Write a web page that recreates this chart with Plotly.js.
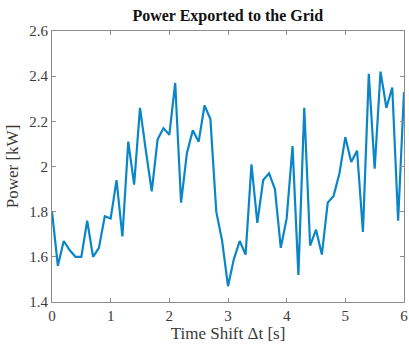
<!DOCTYPE html>
<html>
<head>
<meta charset="utf-8">
<script src="https://cdn.plot.ly/plotly-3.0.1.min.js"></script>
<style>html,body{margin:0;padding:0;background:#fff;}#chart{width:409px;height:344px;}</style>
</head>
<body>
<div id="chart"></div>
<script>
const timeShift = [0,0.1,0.2,0.3,0.4,0.5,0.6,0.7,0.8,0.9,1.0,1.1,1.2,1.3,1.4,1.5,1.6,1.7,1.8,1.9,2.0,2.1,2.2,2.3,2.4,2.5,2.6,2.7,2.8,2.9,3.0,3.1,3.2,3.3,3.4,3.5,3.6,3.7,3.8,3.9,4.0,4.1,4.2,4.3,4.4,4.5,4.6,4.7,4.8,4.9,5.0,5.1,5.2,5.3,5.4,5.5,5.6,5.7,5.8,5.9,6.0];
const power = [1.80,1.56,1.67,1.63,1.60,1.60,1.76,1.60,1.64,1.78,1.77,1.94,1.69,2.11,1.92,2.26,2.07,1.89,2.12,2.17,2.14,2.37,1.84,2.06,2.16,2.11,2.27,2.21,1.80,1.67,1.47,1.59,1.67,1.61,2.01,1.75,1.94,1.97,1.90,1.64,1.77,2.09,1.52,2.26,1.65,1.72,1.61,1.84,1.87,1.97,2.13,2.02,2.07,1.71,2.41,1.99,2.42,2.26,2.35,1.76,2.33];
const xTicks = [0,1,2,3,4,5,6];
const yTicks = [1.4,1.6,1.8,2,2.2,2.4,2.6];
const yTickText = ['1.4','1.6','1.8','2','2.2','2.4','2.6'];

const serif = 'Liberation Serif, Times New Roman, serif';
const axisCommon = {
  showgrid: false, zeroline: false, showline: true, mirror: 'ticks',
  linecolor: '#8c8c8c', linewidth: 1,
  ticks: 'inside', ticklen: 4, tickcolor: '#8c8c8c',
  tickfont: {family: serif, size: 15, color: '#3a3a3a'}
};
Plotly.newPlot('chart', [{
  x: timeShift, y: power, type: 'scatter', mode: 'lines',
  line: {color: '#0a86c8', width: 2.2}
}], {
  width: 409, height: 344,
  margin: {l: 52, r: 5, t: 31, b: 42},
  paper_bgcolor: '#fff', plot_bgcolor: '#fff',
  showlegend: false,
  title: {text: '<b>Power Exported to the Grid</b>', font: {family: serif, size: 16, color: '#111'},
          x: 0.557, xanchor: 'center', y: 0.94, yanchor: 'bottom'},
  xaxis: Object.assign({}, axisCommon, {range: [0, 6], tickvals: xTicks,
    title: {text: 'Time Shift Δt [s]', font: {family: serif, size: 17, color: '#3a3a3a'}, standoff: 3}}),
  yaxis: Object.assign({}, axisCommon, {range: [1.4, 2.6], tickvals: yTicks, ticktext: yTickText,
    title: {text: 'Power [kW]', font: {family: serif, size: 17, color: '#3a3a3a'}, standoff: 6}})
}, {displayModeBar: false, staticPlot: true});
</script>
</body>
</html>
